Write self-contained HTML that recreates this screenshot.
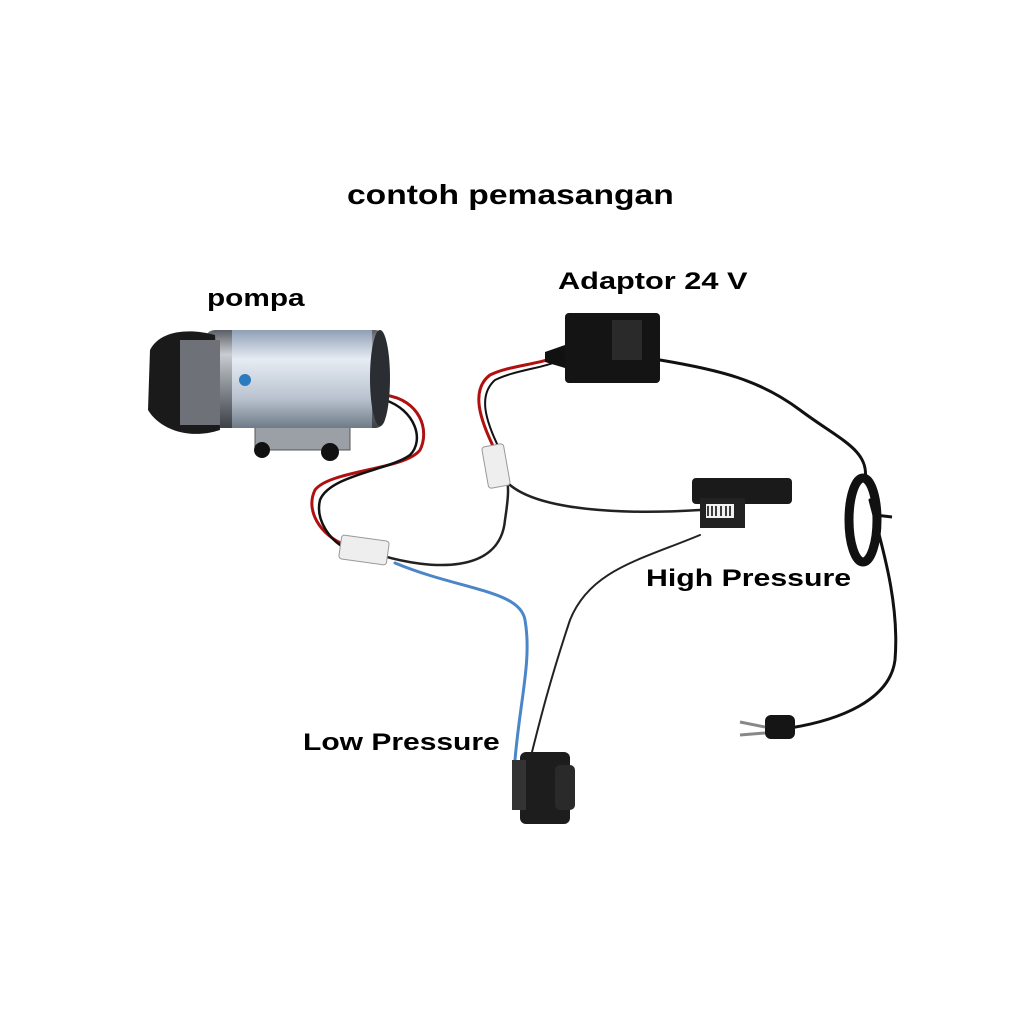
<!DOCTYPE html>
<html><head><meta charset="utf-8"><style>
html,body{margin:0;padding:0;background:#fff;}
.wrap{position:relative;width:1024px;height:1024px;overflow:hidden;}
.t{position:absolute;font-family:"Liberation Sans",Arial,sans-serif;font-weight:bold;color:#000;white-space:nowrap;transform-origin:0 0;}
</style></head><body><div class="wrap">
<svg width="1024" height="1024" viewBox="0 0 1024 1024" style="position:absolute;left:0;top:0">
<defs>
<linearGradient id="cyl" x1="0" y1="0" x2="0" y2="1">
<stop offset="0" stop-color="#5a5f66"/><stop offset="0.25" stop-color="#c9ccd0"/><stop offset="0.55" stop-color="#8d9298"/><stop offset="1" stop-color="#3d4147"/></linearGradient>
<linearGradient id="lab" x1="0" y1="0" x2="0" y2="1">
<stop offset="0" stop-color="#8fa0b5"/><stop offset="0.3" stop-color="#e6ecf3"/><stop offset="0.7" stop-color="#b9c3cf"/><stop offset="1" stop-color="#6f7a88"/></linearGradient>
</defs>
<g fill="none" stroke-linecap="round">
<path d="M385 395 C420 400 430 430 420 450 C405 470 330 470 315 490 C305 510 320 535 345 545" stroke="#b01010" stroke-width="3"/>
<path d="M385 400 C415 410 425 440 410 455 C390 470 330 475 320 500 C315 520 330 540 345 548" stroke="#111" stroke-width="2.5"/>
<path d="M380 555 C430 570 500 575 505 520 C508 500 510 485 505 470" stroke="#222" stroke-width="2.5"/>
<path d="M395 563 C460 590 520 590 525 620 C532 660 520 700 515 760" stroke="#4a86c8" stroke-width="3"/>
<path d="M495 450 C480 420 470 390 490 375 C510 365 540 365 560 355" stroke="#b01010" stroke-width="3"/>
<path d="M500 450 C485 420 478 395 495 380 C515 370 545 368 560 360" stroke="#111" stroke-width="2"/>
<path d="M510 485 C540 510 620 515 700 510" stroke="#222" stroke-width="2.5"/>
<path d="M700 535 C640 560 590 570 570 620 C550 680 540 720 530 760" stroke="#222" stroke-width="2"/>
<path d="M660 360 C720 370 760 380 800 410 C840 440 870 450 865 480" stroke="#111" stroke-width="3"/>
<path d="M870 500 C880 540 900 600 895 660 C890 700 840 720 790 728" stroke="#111" stroke-width="3"/>
</g>
<ellipse cx="863" cy="520" rx="14" ry="42" fill="none" stroke="#111" stroke-width="9"/>
<path d="M875 515 L892 517" stroke="#111" stroke-width="3"/>
<rect x="765" y="715" width="30" height="24" rx="6" fill="#151515"/>
<path d="M765 727 L740 722 M765 733 L740 735" stroke="#888" stroke-width="3"/>
<rect x="255" y="420" width="95" height="30" fill="#9aa0a6" stroke="#555"/>
<circle cx="262" cy="450" r="8" fill="#111"/><circle cx="330" cy="452" r="9" fill="#111"/>
<rect x="205" y="330" width="180" height="98" rx="10" fill="url(#cyl)"/>
<rect x="232" y="330" width="140" height="98" fill="url(#lab)"/>
<ellipse cx="380" cy="378" rx="10" ry="48" fill="#2a2d31"/>
<path d="M150 350 C160 330 190 328 215 335 L220 430 C190 440 160 430 148 410 Z" fill="#1a1a1a"/>
<rect x="180" y="340" width="40" height="85" fill="#6e7278"/>
<circle cx="245" cy="380" r="6" fill="#2c7ac0"/>
<rect x="340" y="538" width="48" height="24" rx="3" fill="#eeeeee" stroke="#999" transform="rotate(8 364 550)"/>
<rect x="485" y="445" width="22" height="42" rx="3" fill="#eeeeee" stroke="#999" transform="rotate(-10 496 466)"/>
<path d="M545 352 L565 345 L565 368 L545 362 Z" fill="#111"/>
<rect x="565" y="313" width="95" height="70" rx="4" fill="#141414"/>
<rect x="612" y="320" width="30" height="40" fill="#2a2a2a"/>
<rect x="692" y="478" width="100" height="26" rx="4" fill="#1a1a1a"/>
<rect x="700" y="498" width="45" height="30" fill="#222"/>
<rect x="706" y="504" width="28" height="14" fill="#f2f2f2"/>
<path d="M708 506 v10 M712 506 v10 M716 506 v10 M721 506 v10 M726 506 v10 M730 506 v10" stroke="#000" stroke-width="1.5"/>
<rect x="520" y="752" width="50" height="72" rx="6" fill="#1d1d1d"/>
<rect x="555" y="765" width="20" height="45" rx="5" fill="#2a2a2a"/>
<rect x="512" y="760" width="14" height="50" fill="#333"/>
</svg>
<div class="t" style="left:347px;top:179px;font-size:28px;transform:scaleX(1.2);">contoh pemasangan</div>
<div class="t" style="left:207px;top:285px;font-size:24px;transform:scaleX(1.24);">pompa</div>
<div class="t" style="left:558px;top:268px;font-size:24px;transform:scaleX(1.28);">Adaptor 24 V</div>
<div class="t" style="left:646px;top:565px;font-size:24px;transform:scaleX(1.26);">High Pressure</div>
<div class="t" style="left:303px;top:729px;font-size:24px;transform:scaleX(1.25);">Low Pressure</div>
</div></body></html>
